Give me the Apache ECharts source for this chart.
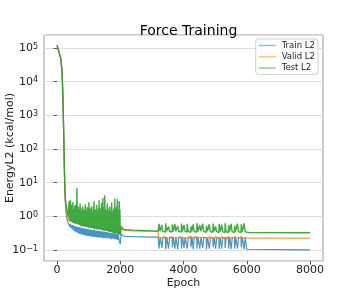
<!DOCTYPE html>
<html>
<head>
<meta charset="utf-8">
<script src="https://cdn.jsdelivr.net/npm/echarts@6/dist/echarts.min.js"></script>
<style>
html,body{margin:0;padding:0;background:#fff;}
#chart{width:359px;height:294px;}
</style>
</head>
<body>
<div id="chart"></div>
<script>
const seriesNames = ['Train L2', 'Valid L2', 'Test L2'];
const xTicks = [0, 2000, 4000, 6000, 8000];

// shared epochs for Train / Valid
const epochs = [
  0,30,60,90,120,150,170,185,200,212,222,232,242,252,265,
  280,300,320,340,360,380,400,420,440,460,
  480,500,520,540,560,580,600,620,640,660,
  680,700,720,740,760,780,800,820,840,860,
  880,900,920,940,960,980,1000,1020,1040,1060,
  1080,1100,1120,1140,1160,1180,1200,1220,1240,1260,
  1280,1300,1320,1340,1360,1380,1400,1420,1440,1460,
  1480,1500,1520,1540,1560,1580,1600,1620,1640,1660,
  1680,1700,1720,1740,1760,1780,1800,1820,1840,1860,
  1880,1900,1920,1940,1960,1980,
  2000,
  2010,2030,2060,2100,2200,2400,2700,3000,3200,
  3220,3226,3256,3262,
  3310,3316,3346,3352,
  3430,3436,3466,3472,
  3520,3526,3556,3562,
  3640,3646,3676,3682,
  3720,3726,3756,3762,
  3810,3816,3846,3852,
  3930,3936,3966,3972,
  4010,4016,4046,4052,
  4110,4116,4146,4152,
  4230,4236,4266,4272,
  4300,4306,4336,4342,
  4420,4426,4456,4462,
  4510,4516,4546,4552,
  4600,4606,4636,4642,
  4720,4726,4756,4762,
  4810,4816,4846,4852,
  4930,4936,4966,4972,
  5010,5016,5046,5052,
  5120,5126,5156,5162,
  5200,5206,5236,5242,
  5310,5316,5346,5352,
  5420,5426,5456,5462,
  5500,5506,5536,5542,
  5610,5616,5646,5652,
  5700,5706,5736,5742,
  5820,5826,5856,5862,
  5910,5916,5946,5952,
  6000,6030,8000
];

const trainL2 = [
  120000,110000,78000,62000,48000,25000,11000,4000,1000,300,100,30,12,4.5,2.5,
  1.5,1.0,0.8,0.7,0.62,0.6,0.5,0.6,0.45,0.55,
  0.42,0.55,0.38,0.52,0.36,0.5,0.34,0.5,0.33,0.48,
  0.31,0.48,0.3,0.45,0.29,0.46,0.29,0.44,0.28,0.44,
  0.27,0.43,0.27,0.42,0.26,0.42,0.26,0.4,0.26,0.41,
  0.25,0.4,0.25,0.39,0.24,0.4,0.25,0.38,0.24,0.38,
  0.24,0.37,0.23,0.38,0.24,0.36,0.23,0.36,0.23,0.35,
  0.22,0.35,0.23,0.34,0.22,0.34,0.23,0.33,0.22,0.33,
  0.22,0.32,0.21,0.32,0.22,0.31,0.21,0.31,0.21,0.3,
  0.21,0.3,0.2,0.29,0.2,0.19,
  0.15,
  0.14,0.3,0.27,0.26,0.255,0.25,0.245,0.24,0.24,
  0.24,0.11,0.11,0.24,
  0.24,0.115,0.115,0.24,
  0.24,0.105,0.105,0.24,
  0.24,0.11,0.11,0.24,
  0.24,0.12,0.12,0.24,
  0.24,0.11,0.11,0.24,
  0.24,0.105,0.105,0.24,
  0.24,0.11,0.11,0.24,
  0.24,0.115,0.115,0.24,
  0.24,0.11,0.11,0.24,
  0.24,0.12,0.12,0.24,
  0.24,0.105,0.105,0.24,
  0.24,0.11,0.11,0.24,
  0.24,0.11,0.11,0.24,
  0.235,0.115,0.115,0.235,
  0.235,0.105,0.105,0.235,
  0.235,0.11,0.11,0.235,
  0.235,0.12,0.12,0.235,
  0.235,0.11,0.11,0.235,
  0.235,0.105,0.105,0.235,
  0.235,0.11,0.11,0.235,
  0.235,0.115,0.115,0.235,
  0.235,0.11,0.11,0.235,
  0.235,0.105,0.105,0.235,
  0.235,0.11,0.11,0.235,
  0.235,0.11,0.11,0.235,
  0.235,0.12,0.12,0.235,
  0.235,0.105,0.105,0.235,
  0.105,0.102,0.1
];

const validL2 = [
  120000,110000,78000,62000,48000,25000,11000,4000,1000,300,100,30,12,5,3,
  2.0,1.4,1.1,0.9,0.8,0.75,0.72,0.7,0.68,0.7,
  0.72,0.7,0.7,0.68,0.66,0.66,0.65,0.65,0.64,0.64,
  0.62,0.62,0.6,0.6,0.6,0.58,0.58,0.58,0.56,0.56,
  0.55,0.55,0.54,0.54,0.53,0.52,0.52,0.52,0.51,0.5,
  0.5,0.5,0.49,0.49,0.48,0.48,0.47,0.47,0.46,0.46,
  0.45,0.45,0.45,0.44,0.44,0.44,0.43,0.43,0.42,0.42,
  0.42,0.41,0.41,0.41,0.4,0.4,0.4,0.39,0.39,0.39,
  0.38,0.38,0.38,0.37,0.37,0.37,0.36,0.36,0.36,0.35,
  0.35,0.35,0.34,0.34,0.34,0.33,
  0.3,
  0.27,0.43,0.41,0.39,0.38,0.37,0.365,0.36,0.355,
  0.228,0.26,0.24,0.228,
  0.228,0.25,0.235,0.228,
  0.228,0.26,0.24,0.228,
  0.227,0.25,0.235,0.227,
  0.227,0.26,0.24,0.227,
  0.227,0.25,0.235,0.227,
  0.227,0.26,0.24,0.227,
  0.227,0.25,0.235,0.227,
  0.227,0.26,0.24,0.227,
  0.226,0.25,0.235,0.226,
  0.226,0.26,0.24,0.226,
  0.226,0.25,0.235,0.226,
  0.226,0.26,0.24,0.226,
  0.226,0.25,0.235,0.226,
  0.226,0.26,0.24,0.226,
  0.226,0.25,0.235,0.226,
  0.226,0.26,0.24,0.226,
  0.226,0.25,0.235,0.226,
  0.226,0.26,0.24,0.226,
  0.226,0.25,0.235,0.226,
  0.226,0.26,0.24,0.226,
  0.226,0.25,0.235,0.226,
  0.226,0.26,0.24,0.226,
  0.226,0.25,0.235,0.226,
  0.226,0.26,0.24,0.226,
  0.226,0.25,0.235,0.226,
  0.226,0.26,0.24,0.226,
  0.226,0.25,0.235,0.226,
  0.226,0.226,0.225
];

// Test is logged more densely in the noisy phase
const testEpochs = [
  0,30,60,90,120,150,170,185,200,212,222,232,242,252,265,
  280,290,300,310,320,330,340,350,360,370,
  380,390,400,410,420,430,440,450,460,470,
  480,490,500,510,520,530,540,550,560,570,
  580,590,600,610,620,630,640,650,660,670,
  680,690,700,710,720,730,740,750,760,770,
  780,790,800,810,820,830,840,850,860,870,
  880,890,900,910,920,930,940,950,960,970,
  980,990,1000,1010,1020,1030,1040,1050,1060,1070,
  1080,1090,1100,1110,1120,1130,1140,1150,1160,1170,
  1180,1190,1200,1210,1220,1230,1240,1250,1260,1270,
  1280,1290,1300,1310,1320,1330,1340,1350,1360,1370,
  1380,1390,1400,1410,1420,1430,1440,1450,1460,1470,
  1480,1490,1500,1510,1520,1530,1540,1550,1560,1570,
  1580,1590,1600,1610,1620,1630,1640,1650,1660,1670,
  1680,1690,1700,1710,1720,1730,1740,1750,1760,1770,
  1780,1790,1800,1810,1820,1830,1840,1850,1860,1870,
  1880,1890,1900,1910,1920,1930,1940,1950,1960,1970,
  1980,1990,
  2000,
  2010,2030,2060,2100,2200,2400,2700,3000,3200,
  3220,3226,3256,3262,
  3310,3316,3346,3352,
  3430,3436,3466,3472,
  3520,3526,3556,3562,
  3640,3646,3676,3682,
  3720,3726,3756,3762,
  3810,3816,3846,3852,
  3930,3936,3966,3972,
  4010,4016,4046,4052,
  4110,4116,4146,4152,
  4230,4236,4266,4272,
  4300,4306,4336,4342,
  4420,4426,4456,4462,
  4510,4516,4546,4552,
  4600,4606,4636,4642,
  4720,4726,4756,4762,
  4810,4816,4846,4852,
  4930,4936,4966,4972,
  5010,5016,5046,5052,
  5120,5126,5156,5162,
  5200,5206,5236,5242,
  5310,5316,5346,5352,
  5420,5426,5456,5462,
  5500,5506,5536,5542,
  5610,5616,5646,5652,
  5700,5706,5736,5742,
  5820,5826,5856,5862,
  5910,5916,5946,5952,
  6000,6030,8000
];

const testL2 = [
  120000,110000,78000,62000,48000,25000,11000,4000,1000,300,100,30,12,5,3.5,
  2.5,2.2,1.9,1.7,1.5,1.35,1.2,1.1,1.0,0.95,
  2.8,0.8,1.9,0.75,3.0,0.7,1.6,0.72,2.2,0.7,
  1.8,0.68,2.6,0.65,1.4,0.66,1.6,0.62,2.1,0.6,
  1.5,0.62,2.2,0.6,1.3,7.0,0.6,1.7,0.58,2.0,
  0.56,1.4,0.57,1.7,0.55,2.4,0.54,1.3,0.5,1.5,
  0.53,1.8,0.52,2.0,0.55,1.4,0.5,1.6,0.52,1.3,
  0.5,2.2,0.49,1.5,0.48,1.4,0.5,1.9,0.47,1.8,
  0.48,1.3,0.45,2.6,0.47,1.5,0.48,1.7,0.45,1.4,
  0.45,2.0,0.46,1.3,0.45,1.4,0.44,1.9,0.42,2.8,
  0.44,1.5,0.45,1.6,0.43,1.3,0.42,2.2,0.43,1.4,
  0.4,1.5,0.42,1.8,0.42,3.0,0.41,1.4,0.4,1.7,
  0.41,1.3,0.4,2.5,0.39,1.6,0.38,3.5,0.39,1.5,
  0.38,1.9,0.37,4.2,0.38,1.4,0.38,1.6,0.36,1.3,
  0.37,2.4,0.36,1.5,0.36,1.4,0.35,1.8,0.35,2.0,
  0.34,1.5,0.35,1.3,0.34,2.6,0.33,1.4,0.33,1.3,
  0.32,1.7,0.33,1.4,0.32,3.4,0.31,1.5,0.32,1.8,
  0.31,2.0,0.31,3.2,0.3,1.4,0.3,1.5,0.3,2.8,
  0.29,1.6,
  0.28,
  0.3,0.5,0.44,0.41,0.40,0.39,0.38,0.37,0.36,
  0.34,0.6,0.36,0.34,
  0.34,0.55,0.36,0.34,
  0.34,0.62,0.36,0.34,
  0.34,0.5,0.36,0.34,
  0.34,0.58,0.36,0.34,
  0.34,0.6,0.36,0.34,
  0.34,0.52,0.36,0.34,
  0.34,0.61,0.36,0.34,
  0.34,0.56,0.36,0.34,
  0.335,0.6,0.36,0.335,
  0.335,0.5,0.36,0.335,
  0.335,0.58,0.36,0.335,
  0.335,0.62,0.36,0.335,
  0.335,0.55,0.36,0.335,
  0.335,0.6,0.36,0.335,
  0.335,0.52,0.36,0.335,
  0.335,0.58,0.36,0.335,
  0.335,0.61,0.36,0.335,
  0.33,0.5,0.35,0.33,
  0.33,0.6,0.35,0.33,
  0.33,0.57,0.35,0.33,
  0.33,0.62,0.35,0.33,
  0.33,0.55,0.35,0.33,
  0.33,0.6,0.35,0.33,
  0.33,0.52,0.35,0.33,
  0.33,0.6,0.35,0.33,
  0.33,0.58,0.35,0.33,
  0.33,0.62,0.35,0.33,
  0.33,0.33,0.325
];

const colors = ['#1f77b4', '#ff7f0e', '#2ca02c'];
const FONT = 'DejaVu Sans';

function pairs(xs, vals) { return xs.map((e, i) => [e, vals[i]]); }
function sup(n){ return String(n).replace('-', '\u2212'); }

const chart = echarts.init(document.getElementById('chart'), null, {renderer: 'canvas'});
chart.setOption({
  animation: false,
  backgroundColor: '#fff',
  textStyle: {fontFamily: FONT},
  title: {
    text: 'Force Training',
    left: 183.5, top: 19, textAlign: 'center',
    textStyle: {fontFamily: FONT, fontSize: 14, fontWeight: 'normal', color: '#000'}
  },
  legend: {
    data: seriesNames,
    orient: 'vertical',
    right: 41, top: 39,
    icon: 'rect', itemWidth: 17, itemHeight: 1.5, itemGap: 2.3,
    padding: [2, 3, 2, 3],
    backgroundColor: 'rgba(255,255,255,0.85)',
    borderColor: '#d0d0d0', borderWidth: 1, borderRadius: 3,
    textStyle: {fontFamily: FONT, fontSize: 8.5, color: '#222', padding: [0,0,0,1]}
  },
  grid: {left: 44, right: 36, top: 35, bottom: 33, show: true, borderColor: '#9a9a9a', borderWidth: 1,
    backgroundColor: 'transparent', containLabel: false, outerBoundsMode: 'none'},
  xAxis: {
    type: 'value', min: -411, max: 8411,
    name: 'Epoch', nameLocation: 'middle', nameGap: 17, nameMoveOverlap: false,
    nameTextStyle: {fontFamily: FONT, fontSize: 11, color: '#222'},
    axisLine: {show: false},
    axisTick: {show: true, length: 3.5, lineStyle: {color: '#555'}},
    axisLabel: {fontFamily: FONT, fontSize: 11, color: '#222', margin: 4, showMinLabel: false, showMaxLabel: false,
      formatter: v => (xTicks.indexOf(v) >= 0 ? String(v) : '')},
    splitLine: {show: false}
  },
  yAxis: {
    type: 'log', logBase: 10, min: 0.047, max: 245000,
    name: 'EnergyL2 (kcal/mol)', nameLocation: 'middle', nameGap: 28, nameMoveOverlap: false,
    nameTextStyle: {fontFamily: FONT, fontSize: 11, color: '#222'},
    axisLine: {show: false},
    axisTick: {show: true, length: 3.5, lineStyle: {color: '#555'}},
    axisLabel: {
      fontFamily: FONT, color: '#222', margin: 6, showMinLabel: false, showMaxLabel: false,
      formatter: v => {
        const e = Math.round(Math.log10(v));
        if (Math.abs(Math.log10(v) - e) > 1e-6) return '';
        return '{b|10}{s|' + sup(e) + '}';
      },
      rich: {
        b: {fontFamily: FONT, fontSize: 11, color: '#222', lineHeight: 11, padding: [3,0,0,0], verticalAlign: 'bottom'},
        s: {fontFamily: FONT, fontSize: 8, color: '#222', lineHeight: 8, verticalAlign: 'top'}
      }
    },
    splitLine: {show: true, lineStyle: {color: '#dedede', width: 1.2}}
  },
  series: [
    {name: seriesNames[0], type: 'line', data: pairs(epochs, trainL2), symbol: 'none', color: colors[0],
      lineStyle: {width: 1.2, color: colors[0], opacity: 0.8}, itemStyle: {color: colors[0], opacity: 0.5}},
    {name: seriesNames[1], type: 'line', data: pairs(epochs, validL2), symbol: 'none', color: colors[1],
      lineStyle: {width: 1.2, color: colors[1], opacity: 0.8}, itemStyle: {color: colors[1], opacity: 0.5}},
    {name: seriesNames[2], type: 'line', data: pairs(testEpochs, testL2), symbol: 'none', color: colors[2],
      lineStyle: {width: 1.4, color: colors[2], opacity: 0.9}, itemStyle: {color: colors[2], opacity: 0.5}}
  ]
});
</script>
</body>
</html>
